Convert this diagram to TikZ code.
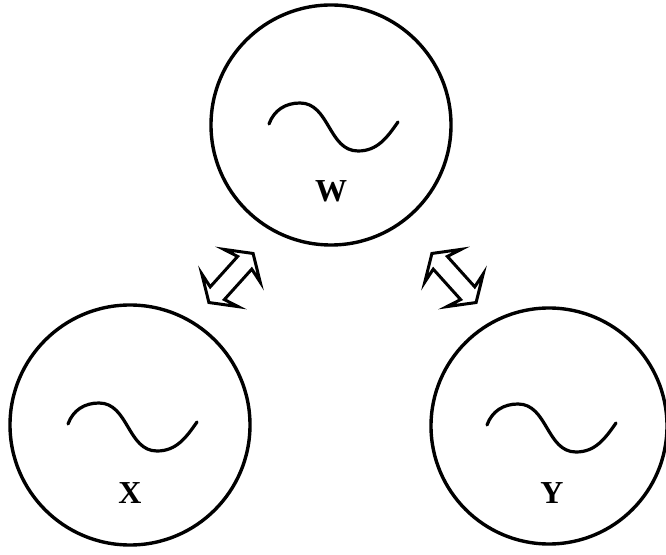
\documentclass[tikz,border=0pt]{standalone}
\usepackage{fontspec}
\setmainfont{Liberation Serif}
\usetikzlibrary{shapes.arrows}

\tikzset{
    gen circle/.style={
      circle,
      draw=black,
      line width=3.4pt,
      minimum size=240pt,
      inner sep=0pt
    },
    gen wave/.style={
      draw=black,
      line width=3.2pt,
      line cap=round
    },
    gen label/.style={
      font=\bfseries\fontsize{32}{32}\selectfont
    },
    link arrow/.style={
      double arrow,
      draw=black,
      fill=white,
      line width=3pt,
      inner sep=8pt,
      minimum height=66pt,
      minimum width=46pt,
      double arrow head extend=15pt,
      double arrow tip angle=112,
      double arrow head indent=4pt
    }
  }

\begin{document}
\begin{tikzpicture}[x=1pt,y=1pt]
      \useasboundingbox (0,0) rectangle (666,554);

      % 円
      \node[gen circle] (wgen) at (331,429) {};
      \node[gen circle] (xgen) at (130,129) {};
      \node[gen circle, minimum size=236pt] (ygen) at (549,128) {};

      % 波形
      \foreach \g in {wgen,xgen,ygen}
        \draw[gen wave, shift={(\g.center)}]
          (-62,1) to[out=70,in=180] (-31,22) to[out=0,in=180] (27,-26)
          to[out=0,in=235] (67,3);

      % ラベル
      \node[gen label] (wlab) at ([yshift=-66pt]wgen.center) {W};
      \node[gen label] (xlab) at ([yshift=-68pt]xgen.center) {X};
      \node[gen label] (ylab) at ([shift={(3pt,-67pt)}]ygen.center) {Y};

      % 矢印
      \node[link arrow, rotate=48] (xw) at (231,276) {};
      \node[link arrow, rotate=-48] (wy) at (454,276) {};
    \end{tikzpicture}
\end{document}
